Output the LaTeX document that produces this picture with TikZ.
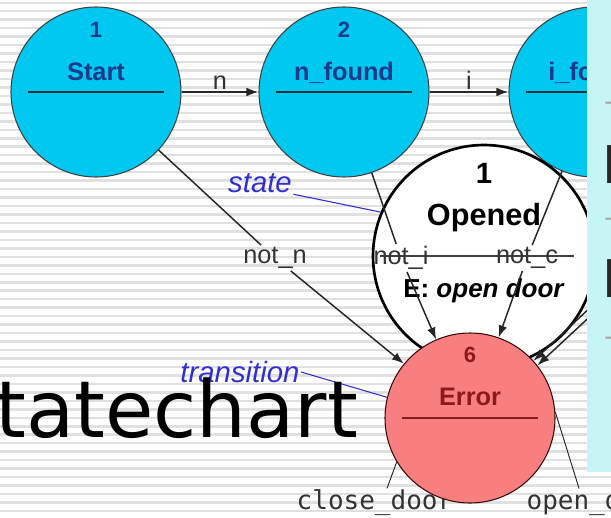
\documentclass[tikz,border=0pt]{standalone}
\usepackage{fontspec}
\setmainfont{Liberation Sans}
\newfontfamily\slidefont{DejaVu Sans}
\newfontfamily\codefont{DejaVu Sans Mono}
\usetikzlibrary{arrows.meta}
\definecolor{stateCyan}{HTML}{00C8F0}
\definecolor{stateInk}{HTML}{1B3A8C}
\definecolor{errorRed}{HTML}{F87F7F}
\definecolor{errorInk}{HTML}{8B1A1A}
\definecolor{noteBlue}{HTML}{3030D0}
\definecolor{labelGray}{HTML}{333333}
\definecolor{stripeGray}{HTML}{E0E0E0}
\definecolor{panelCyan}{HTML}{C6F5F5}

\tikzset{
  statecircle/.style={circle, draw=black!75, line width=0.8pt, minimum size=127.5pt, inner sep=0pt},
  statename/.style={font=\bfseries\fontsize{19}{19}\selectfont, text=stateInk, anchor=base},
  statenum/.style={font=\bfseries\fontsize{16.5}{16.5}\selectfont, text=stateInk, anchor=base},
  divider/.style={draw=black!60!teal, line width=1pt},
  trans/.style={draw=black!85, line width=1.1pt},
  translabel/.style={font=\fontsize{19}{19}\selectfont, text=labelGray, inner sep=1.5pt},
  note/.style={font=\itshape\fontsize{22}{22}\selectfont, text=noteBlue, inner sep=1pt},
  noteline/.style={draw=noteBlue, line width=0.8pt},
  codelabel/.style={font=\codefont\fontsize{19.5}{19.5}\selectfont, text=labelGray, inner sep=1pt},
  slidetext/.style={font=\slidefont\fontsize{39}{39}\selectfont, text=black!85, anchor=base west, inner sep=0pt},
  slidedash/.style={font=\slidefont\fontsize{20}{20}\selectfont, text=black!35, anchor=base west, inner sep=0pt}
}

\begin{document}
\begin{tikzpicture}[x=0.75pt, y=-0.75pt, >={Latex[length=9pt,width=6.5pt]}]
 \useasboundingbox (0,0) rectangle (611,518);
 \clip (0,0) rectangle (611,518);
 % Background
 \fill[white] (0,0) rectangle (611,518);
 \foreach \k in {0,...,61}
  \fill[stripeGray] (0,{1.5+8.47*\k}) rectangle (611,{4+8.47*\k});
 % Top row of states
 \node[statecircle, fill=stateCyan] (start) at (96,92) {};
 \node[statenum] (startNum) at ([yshift=41.25pt]start.center) {1};
 \node[statename] (startName) at ([yshift=9pt]start.center) {Start};
 \draw[divider] ([xshift=-51pt]start.center) -- ([xshift=51pt]start.center);
 \node[statecircle, fill=stateCyan] (nfound) at (344,92) {};
 \node[statenum] (nfoundNum) at ([yshift=41.25pt]nfound.center) {2};
 \node[statename] (nfoundName) at ([yshift=9pt]nfound.center) {n\_found};
 \draw[divider] ([xshift=-51pt]nfound.center) -- ([xshift=51pt]nfound.center);
 \node[statecircle, fill=stateCyan] (ifound) at (594,92) {};
 \node[statenum] (ifoundNum) at ([yshift=41.25pt]ifound.center) {3};
 \node[statename] (ifoundName) at ([yshift=9pt]ifound.center) {i\_found};
 \draw[divider] ([xshift=-51pt]ifound.center) -- ([xshift=51pt]ifound.center);
 % Opened state
 \node[statecircle, fill=white, draw=black, line width=2pt, minimum size=166.5pt] (opened) at (484,256) {};
 \node[font=\bfseries\fontsize{22}{22}\selectfont, anchor=base] (openedNum) at ([yshift=54.75pt]opened.center) {1};
 \node[font=\bfseries\fontsize{23}{23}\selectfont, anchor=base] (openedName) at ([yshift=23.25pt]opened.center) {Opened};
 \draw[draw=black!75, line width=1pt] ([xshift=-78pt]opened.center) -- ([xshift=67.5pt]opened.center);
 \node[font=\fontsize{19.5}{19.5}\selectfont, anchor=base] (openedEntry) at ([yshift=-30.75pt]opened.center) {\textbf{E:} \textbf{\textit{open door}}};
 % Outgoing labels under Error
 \node[codelabel] (closeLbl) at (375,503) {close\_door};
 \node[codelabel, anchor=west] (openLbl) at (525,503) {open\_door};
 % Error state
 \node[statecircle, fill=errorRed, draw=black!60!errorInk] (error) at (470,418) {};
 \node[statenum, text=errorInk] (errorNum) at ([yshift=42pt]error.center) {6};
 \node[statename, text=errorInk] (errorName) at ([yshift=9.75pt]error.center) {Error};
 \draw[divider, draw=errorInk] ([xshift=-51pt]error.center) -- ([xshift=51pt]error.center);
 % Transitions
 \draw[trans, ->] (start) -- node[translabel, above] (lblN) {n} (nfound);
 \draw[trans, ->] (nfound) -- node[translabel, above] (lblI) {i} (ifound);
 \node[translabel] (notN) at (275,258) {not\_n};
 \draw[trans] (start) -- (notN);
 \draw[trans, ->] (notN) -- (error);
 \node[translabel] (notI) at (401,258) {not\_i};
 \draw[trans] (nfound) -- (notI);
 \draw[trans, ->] (notI) -- (error);
 \node[translabel] (notC) at (527,258) {not\_c};
 \draw[trans] (ifound) -- (notC);
 \draw[trans, ->] (notC) -- (error);
 \coordinate (offA) at (611,288);
 \coordinate (offB) at (611,297);
 \draw[trans, ->] (offA) -- (error.42);
 \draw[trans, ->] (offB) -- (error.38);
 \draw[trans, line width=0.7pt] (error.211) -- ([xshift=9pt]closeLbl.north);
 \draw[trans, line width=0.7pt] (error.4) -- ([xshift=-13.5pt]openLbl.north);
 % Notes
 \node[note] (stateNote) at (260,183) {state};
 \draw[noteline] (stateNote.south east) -- (opened.157);
 \node[note] (transNote) at (240,372) {transition};
 \draw[noteline] (transNote.east) -- (error.166);
 % Slide overlay
 \node[font=\slidefont\fontsize{59}{59}\selectfont, anchor=base west, inner sep=0pt] (title) at (-5,437) {tatechart};
 \fill[panelCyan] (587,0) rectangle (611,472);
 \node[slidedash] (dashA) at (604,110) {-};
 \node[slidetext] (slideA) at (602.5,183) {E};
 \node[slidedash] (dashB) at (604,226) {-};
 \node[slidetext] (slideB) at (602.5,297) {E};
 \node[slidedash] (dashC) at (604,345) {-};
\end{tikzpicture}
\end{document}
